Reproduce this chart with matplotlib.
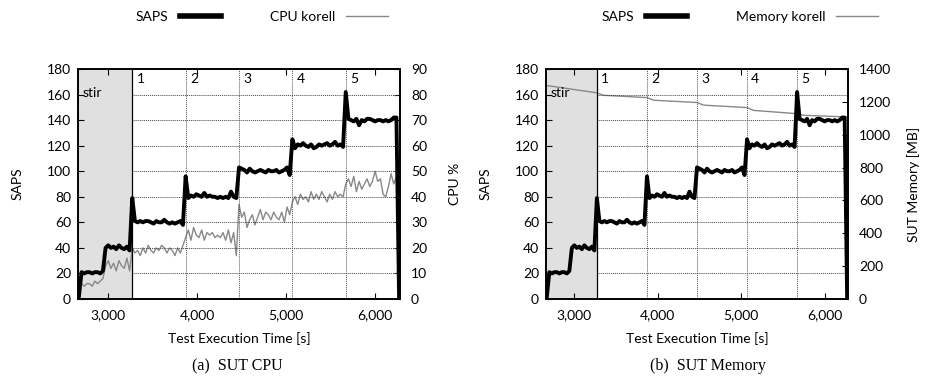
import numpy as np
import matplotlib
matplotlib.use('Agg')
import matplotlib.pyplot as plt
from matplotlib.lines import Line2D

plt.rcParams['font.family'] = ['Lato', 'DejaVu Sans']
plt.rcParams['font.size'] = 10

# tempo de amostragem (a cada 30 s)
t_start = 2670
t_step = 30

saps = [2, 21, 20, 21, 21, 20, 21, 21, 20, 22,
        40, 42, 40, 41, 39, 42, 40, 39, 41, 38,
        79, 61, 60, 61, 60, 61, 61, 60, 59, 61,
        60, 60, 62, 60, 59, 60, 59, 60, 61, 58,
        96, 79, 81, 80, 82, 81, 80, 83, 80, 81,
        80, 80, 79, 80, 79, 80, 79, 84, 80, 79,
        103, 102, 101, 99, 102, 100, 99, 100, 101, 100,
        99, 101, 100, 100, 101, 99, 100, 101, 103, 97,
        125, 118, 121, 120, 122, 120, 119, 121, 118, 119,
        121, 120, 121, 122, 120, 121, 123, 120, 121, 119,
        162, 141, 140, 139, 141, 136, 140, 139, 141, 141,
        140, 139, 140, 140, 139, 140, 139, 140, 142, 142,
        0]

cpu = [4, 6, 5, 6, 6, 5, 7, 6, 7, 8,
       13, 15, 12, 14, 11, 15, 13, 12, 16, 11,
       20, 18, 19, 17, 20, 18, 21, 19, 18, 20,
       19, 21, 20, 18, 20, 19, 17, 20, 18, 21,
       24, 27, 23, 28, 25, 24, 27, 23, 26, 25,
       26, 24, 25, 24, 26, 23, 27, 22, 26, 17,
       37, 32, 34, 28, 31, 33, 29, 32, 35, 31,
       34, 33, 31, 34, 32, 31, 34, 30, 36, 33,
       38, 40, 37, 41, 39, 40, 38, 42, 39, 41,
       39, 42, 40, 38, 41, 39, 42, 40, 41, 40,
       45, 47, 44, 48, 42, 46, 43, 45, 47, 44,
       46, 50, 46, 47, 41, 40, 44, 49, 45, 48,
       50]

mem_t = [2660, 3270, 3350, 3870, 3950, 4470, 4550, 5070, 5150, 5670, 5750, 6280]
mem = [1300, 1255, 1240, 1226, 1210, 1196, 1180, 1165, 1148, 1128, 1118, 1108]

# fases do teste
stir_end = 3270
phase_starts = [3270, 3870, 4470, 5070, 5670]
phase_labels = ['1', '2', '3', '4', '5']

x_ticks = [3000, 4000, 5000, 6000]
x_tick_labels = ['3,000', '4,000', '5,000', '6,000']

t = t_start + t_step * np.arange(len(saps))

fig = plt.figure(figsize=(9.25, 3.85), dpi=100)


def painel(pos, serie_t, serie, ylim2, yticks2, ylabel2):
    ax = fig.add_axes(pos)
    ax2 = ax.twinx()
    ax.set_zorder(2)
    ax2.set_zorder(1)
    ax.patch.set_visible(False)

    ax.set_xlim(2660, 6280)
    ax.set_ylim(0, 180)
    ax2.set_ylim(*ylim2)

    # região de stir
    ax2.axvspan(2660, stir_end, color='#e0e0e0', lw=0, zorder=0)
    ax.axvline(stir_end, color='black', lw=0.9, zorder=3)

    # grade pontilhada
    for y in range(20, 180, 20):
        ax.hlines(y, stir_end, 6280, colors='#444444', lw=0.7,
                  linestyles=(0, (1, 1)), zorder=1)
    for x in phase_starts[1:]:
        ax.axvline(x, color='#555555', lw=0.7, ls=(0, (1, 1)), zorder=1)

    ax2.plot(serie_t, serie, color='#888888', lw=1.0, zorder=2)
    ax.plot(t, saps, color='black', lw=2.8, zorder=4)

    for x, lab in zip(phase_starts, phase_labels):
        ax.text(x + 50, 177, lab, ha='left', va='top', fontsize=10)
    ax.text(2710, 161, 'stir', ha='left', va='center', fontsize=10)

    ax.set_yticks(range(0, 181, 20))
    ax2.set_yticks(yticks2)
    ax.set_xticks(x_ticks)
    ax.set_xticklabels(x_tick_labels)
    ax.tick_params(direction='in', length=4, width=0.8, top=True, pad=5)
    ax.tick_params(axis='x', pad=7)
    ax2.tick_params(direction='in', length=4, width=0.8, pad=8)
    for a in (ax, ax2):
        for s in a.spines.values():
            s.set_linewidth(1.2)

    ax.set_xlabel('Test Execution Time [s]')
    ax.xaxis.set_label_coords(0.5, -0.145)
    ax.set_ylabel('SAPS')
    ax2.set_ylabel(ylabel2)
    return ax, ax2


ax_a, ax_a2 = painel([78 / 925, 1 - 299 / 385, 322 / 925, 230 / 385],
                     t, cpu, (0, 90), range(0, 91, 10), 'CPU %')
ax_a.yaxis.set_label_coords(-54 / 322, 0.5)
ax_a2.yaxis.set_label_coords(371 / 322, 0.5)

ax_b, ax_b2 = painel([546 / 925, 1 - 299 / 385, 302 / 925, 230 / 385],
                     mem_t, mem, (0, 1400), range(0, 1401, 200), 'SUT Memory [MB]')
ax_b.yaxis.set_label_coords(-54 / 302, 0.5)
ax_b2.yaxis.set_label_coords(361 / 302, 0.5)

# legendas no topo
for nome, cx in [('CPU korell', 262 / 925), ('Memory korell', 740 / 925)]:
    handles = [Line2D([], [], color='black', lw=4),
               Line2D([], [], color='#888888', lw=1.0)]
    fig.legend(handles, ['SAPS', nome], loc='center', bbox_to_anchor=(cx, 1 - 17 / 385),
               ncol=2, frameon=False, markerfirst=False, handlelength=3.0,
               handletextpad=0.8, columnspacing=3.5, fontsize=10)

fig.text(237 / 925, 1 - 366 / 385, '(a)  SUT CPU', ha='center', va='center',
         family='Liberation Serif', fontsize=11.5)
fig.text(708 / 925, 1 - 366 / 385, '(b)  SUT Memory', ha='center', va='center',
         family='Liberation Serif', fontsize=11.5)

plt.savefig('out.png', dpi=100)
